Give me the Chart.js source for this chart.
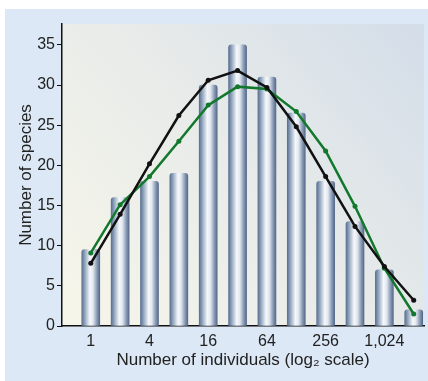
<!DOCTYPE html>
<html><head><meta charset="utf-8">
<script src="https://cdn.jsdelivr.net/npm/chart.js@4"></script>
<style>
html,body{margin:0;padding:0;background:#fff;width:428px;height:381px;overflow:hidden}
#panel{position:absolute;left:5px;top:9px;width:423px;height:372px;background:#dce8f5}
canvas{display:block}
</style></head><body>
<div id="panel"><canvas id="c" width="423" height="372"></canvas></div>
<script>
const categories = ["1","2","4","8","16","32","64","128","256","512","1,024","2,048"];
const tickLabels = {0:"1",2:"4",4:"16",6:"64",8:"256",10:"1,024"};
const observed = [9.5,16,18,19,30,35,31,26.5,18,13,7,2];
const fitBlack = [7.8,13.9,20.2,26.2,30.6,31.8,29.7,24.8,18.6,12.4,7.4,3.2];
const fitGreen = [9.1,15.1,18.6,23.0,27.5,29.8,29.5,26.7,21.8,14.9,7.2,1.5];

const pts = arr => arr.map((v,i)=>({x:i,y:v}));
const FONT = "'Liberation Sans', Arial, sans-serif";

function barGradient(ctx){
  const chart = ctx.chart;
  if(ctx.type!=='data' || !chart.chartArea) return '#8fa3bd';
  const x = chart.scales.x.getPixelForValue(ctx.dataIndex);
  const g = chart.ctx.createLinearGradient(x-9,0,x+9,0);
  g.addColorStop(0,'#5a7090');
  g.addColorStop(0.18,'#95a8c0');
  g.addColorStop(0.45,'#f6f8fb');
  g.addColorStop(0.62,'#e3e9f1');
  g.addColorStop(0.85,'#8597b2');
  g.addColorStop(1,'#56698a');
  return g;
}

const bgPlugin = {
  id:'bg',
  beforeDraw(chart){
    const {ctx, chartArea:a} = chart;
    const g = ctx.createLinearGradient(a.left,a.bottom,a.right,a.top);
    g.addColorStop(0,'#f7f6ea');
    g.addColorStop(0.5,'#e8ebe9');
    g.addColorStop(1,'#d3dde9');
    ctx.save(); ctx.fillStyle=g; ctx.fillRect(a.left,a.top,a.right-a.left,a.bottom-a.top); ctx.restore();
  }
};

new Chart(document.getElementById('c'),{
  type:'bar',
  data:{datasets:[
    {type:'line',data:pts(fitBlack),borderColor:'#111',backgroundColor:'#111',borderWidth:2.5,pointRadius:2.5,pointBorderWidth:0,tension:0,order:1},
    {type:'line',data:pts(fitGreen),borderColor:'#12782c',backgroundColor:'#12782c',borderWidth:2.5,pointRadius:2.5,pointBorderWidth:0,tension:0,order:2},
    {type:'bar',data:pts(observed),backgroundColor:barGradient,barThickness:18,borderRadius:{topLeft:3,topRight:3},borderSkipped:'bottom',order:3}
  ]},
  options:{
    responsive:false,animation:false,
    layout:{padding:{top:15,right:0,left:0,bottom:0}},
    plugins:{legend:{display:false},tooltip:{enabled:false}},
    scales:{
      x:{type:'linear',offset:false,min:-0.98,max:11.35,
        grid:{display:true,drawOnChartArea:false,drawTicks:false,offset:false},
        border:{display:true,color:'#111',width:1.5},
        afterBuildTicks(s){s.ticks=[0,2,4,6,8,10].map(v=>({value:v}));},
        afterFit(s){s.height=55;},
        ticks:{padding:6,color:'#222',font:{family:FONT,size:16},maxRotation:0,autoSkip:false,
          callback:v=>tickLabels[v]!==undefined?tickLabels[v]:''},
        title:{display:true,text:'Number of individuals (log\u2082 scale)',color:'#222',font:{family:FONT,size:17},padding:{top:0,bottom:10}}
      },
      y:{min:0,max:37.6,
        grid:{display:true,drawOnChartArea:false,drawTicks:true,tickLength:5,color:'#111'},
        border:{display:true,color:'#111',width:1.5},
        afterBuildTicks(s){s.ticks=[0,5,10,15,20,25,30,35].map(v=>({value:v}));},
        afterFit(s){s.width=57;},
        ticks:{padding:2,color:'#222',font:{family:FONT,size:16}},
        title:{display:true,text:'Number of species',color:'#222',font:{family:FONT,size:17},padding:{top:11,bottom:0}}
      }
    }
  },
  plugins:[bgPlugin]
});
</script></body></html>
